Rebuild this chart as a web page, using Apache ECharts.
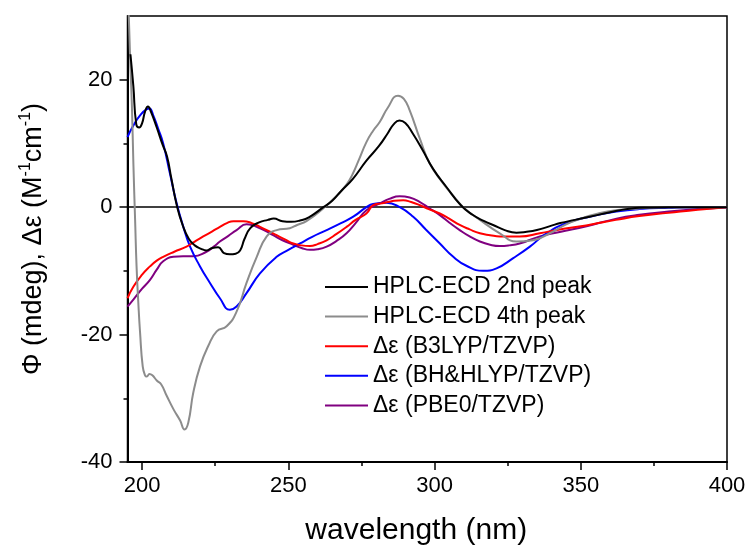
<!DOCTYPE html>
<html>
<head>
<meta charset="utf-8">
<script src="https://cdn.jsdelivr.net/npm/echarts@6/dist/echarts.min.js"></script>
<style>html,body{margin:0;padding:0;background:#fff}#c{width:750px;height:547px}</style>
</head>
<body>
<div id="c"></div>
<script>
var seriesNames = ['HPLC-ECD 2nd peak', 'HPLC-ECD 4th peak', 'Δε (B3LYP/TZVP)', 'Δε (BH&HLYP/TZVP)', 'Δε (PBE0/TZVP)'];
var xTickLabels = [200, 250, 300, 350, 400];
var xMinorTicks = [225, 275, 325, 375];
var yTickLabels = [-40, -20, 0, 20];
var yMinorTicks = [-30, -10, 10];

var hplc2nd = [[196,24],[197,19],[198,13],[199,12.5],[200,13.2],[201,15],[202,15.8],[203,15],[205,12.5],[207,9.8],[208.5,8],[210,4.5],[212,0],[214,-3],[216,-5],[218,-6],[220,-6.5],[222,-6.8],[224,-6.4],[226,-6.3],[228,-7.2],[230,-7.4],[232,-7.3],[233.5,-6.8],[235,-5],[237,-3.3],[240,-2.4],[243,-2],[245,-1.8],[248,-2.2],[251,-2.3],[254,-2.1],[257,-1.6],[262,0],[265,1],[268,2.5],[272,4.4],[276.7,7.3],[281,9.6],[284,11.6],[286,13],[288,13.6],[290,13.2],[292.5,11.6],[296,8.9],[299.5,6],[304,3.2],[309,0.3],[313,-1.2],[317,-2.2],[320,-2.8],[324,-3.6],[328,-4],[331,-3.9],[335,-3.6],[340,-2.9],[343,-2.5],[348,-2],[353,-1.5],[358,-1],[362,-0.6],[366,-0.3],[370,-0.1],[380,0],[390,0],[400,0]];
var hplc4th = [[195.3,32],[196,22],[196.5,16],[197,7],[197.6,-2],[198.1,-9.3],[198.7,-15],[199.3,-19.7],[200.2,-25],[201,-26.4],[201.6,-26.6],[202.5,-26.2],[203.5,-26.4],[205,-27.2],[206.5,-27.8],[208.4,-29.6],[210.7,-31.7],[213,-33.5],[214.5,-34.9],[215.8,-33.8],[217.5,-29.1],[219.8,-25],[222.6,-21.8],[225.5,-19.5],[228.9,-18.7],[232.3,-16.4],[235.7,-11.9],[239.2,-7.8],[242.6,-4.6],[246,-3.6],[250.5,-3.3],[253,-2.8],[256.2,-2.2],[261.9,-0.2],[267,2],[270,3.6],[272,5.2],[274,7.3],[276.7,10.2],[279,12],[281.3,13.4],[284,15.6],[287.5,17.5],[289.5,17],[291.5,15.2],[295,10.7],[298.4,6.8],[303,3.7],[306,2],[309.8,0],[315.5,-2],[322.3,-4.1],[328,-5.4],[333.7,-5.2],[339.4,-4.1],[345,-2.7],[350,-1.8],[356,-1.0],[362,-0.5],[370,-0.2],[380,0],[400,0]];
var b3lyp = [[195,-14.3],[197,-12.5],[200,-10.6],[202.7,-9.3],[205,-8.4],[207.2,-7.8],[211,-7],[215.2,-6.2],[218,-5.4],[220.9,-4.6],[224,-3.8],[226.6,-3.1],[229,-2.5],[231.2,-2.2],[234.6,-2.2],[237.5,-2.5],[240.3,-3.1],[243,-3.7],[246,-4.4],[249,-5.1],[251.7,-5.7],[254.5,-6],[257.4,-6.1],[260,-5.8],[263.1,-5.2],[266.5,-4.2],[269.9,-3.1],[273,-2],[276.7,-1.0],[279,0.3],[282,0.6],[285,0.9],[289.3,1.1],[292,0.8],[295,0.3],[298,-0.3],[301.8,-1],[305,-1.8],[308.6,-2.8],[312,-3.5],[315.5,-4.1],[319,-4.4],[322.3,-4.6],[329.1,-4.6],[336,-4.1],[342.8,-3.5],[350,-3.0],[356,-2.5],[362,-2.0],[370,-1.4],[380,-0.9],[390,-0.4],[400,0]];
var bhhlyp = [[195,11],[197,12.8],[199.3,14.4],[201.6,15.4],[202.5,15.5],[203.8,14.4],[205.5,12.3],[207.2,10],[209.5,5.3],[211.8,0.6],[214.1,-3.1],[216.4,-6.2],[219.8,-9.3],[223.2,-11.9],[226.6,-14.3],[230,-16.1],[232.3,-15.6],[235.7,-13.5],[240.3,-10.4],[246,-7.8],[250,-6.7],[254,-5.7],[258,-4.7],[263.1,-3.6],[268,-2.5],[272.2,-1.5],[276.7,0],[279,0.5],[283.6,0.7],[288.1,0],[292.7,-1.5],[297,-3.5],[301.8,-5.7],[306.4,-7.8],[310.9,-9.2],[316.6,-10],[321.2,-9.6],[326.9,-8],[332.6,-6.2],[338.3,-4.1],[345.1,-2.5],[353,-1.5],[362.2,-0.7],[370,-0.3],[380,-0.1],[390,0],[400,0]];
var pbe0 = [[195,-15.6],[197,-14.5],[200,-12.8],[202.7,-11.4],[205,-9.8],[207.2,-8.5],[210.7,-7.8],[214,-7.7],[217.5,-7.7],[222,-7],[224.5,-6.2],[226.6,-5.4],[229.5,-4.5],[232.3,-3.6],[235.7,-2.7],[237.5,-2.8],[239.2,-3.1],[242,-3.7],[244.8,-4.4],[248,-5.2],[251.7,-5.9],[254.5,-6.4],[257.4,-6.7],[260,-6.6],[263.1,-6.2],[266.5,-5.3],[269.9,-4.1],[273,-2.5],[276.7,-0.5],[281.3,0.6],[284.5,1.3],[288.1,1.7],[291.5,1.5],[295,0.8],[298,-0.1],[301.8,-1.25],[305,-2.4],[308.6,-3.6],[312,-4.6],[315.5,-5.4],[319,-5.9],[322.3,-6.1],[325.5,-6],[329.1,-5.7],[336,-4.6],[342.8,-3.9],[352,-3.0],[362.2,-1.8],[370,-1.2],[380,-0.7],[390,-0.3],[400,0]];

var colors = ['#000000', '#8c8c8c', '#ff0000', '#0000ff', '#800080'];
var datasets = [hplc2nd, hplc4th, b3lyp, bhhlyp, pbe0];

var font = 'Arial, "Liberation Sans", sans-serif';
var chart = echarts.init(document.getElementById('c'));

var series = datasets.map(function (d, i) {
  return {
    name: seriesNames[i], type: 'line', data: d, symbol: 'none', showSymbol: false,
    smooth: 0.5, clip: true,
    lineStyle: { color: colors[i], width: 2 }, itemStyle: { color: colors[i] },
    z: 10 - i, silent: true
  };
});
series[0].markLine = {
  silent: true, symbol: 'none', label: { show: false },
  lineStyle: { color: '#000', width: 1.5, type: 'solid' },
  data: [{ yAxis: 0 }], z: 1
};

chart.setOption({
  animation: false,
  backgroundColor: '#fff',
  grid: { left: 127.5, right: 23, top: 16, bottom: 85, containLabel: false, outerBoundsMode: 'none', show: true, borderColor: '#000', borderWidth: 1.5, backgroundColor: 'transparent' },
  legend: {
    orient: 'vertical', left: 324, top: 275.5, padding: 0,
    itemWidth: 43, itemHeight: 22, itemGap: 6.6,
    itemStyle: { opacity: 0 },
    lineStyle: { width: 2 },
    textStyle: { fontFamily: font, fontSize: 23, color: '#000', lineHeight: 22 },
    data: seriesNames
  },
  xAxis: [{
    type: 'value', min: 195, max: 400, position: 'bottom',
    name: 'wavelength (nm)', nameLocation: 'middle', nameGap: 54,
    nameTextStyle: { fontFamily: font, fontSize: 30, color: '#000', padding: [0, 22, 0, 0] },
    axisLine: { show: true, onZero: false, lineStyle: { color: '#000', width: 2 } },
    axisTick: { show: true, inside: false, length: 8, lineStyle: { color: '#000', width: 1.5 }, customValues: xTickLabels },
    axisLabel: { fontFamily: font, fontSize: 22, color: '#000', margin: 13, customValues: xTickLabels },
    splitLine: { show: false }
  }, {
    type: 'value', min: 195, max: 400, position: 'bottom',
    axisLine: { show: false, onZero: false },
    axisTick: { show: true, inside: false, length: 4, lineStyle: { color: '#000', width: 1.5 }, customValues: xMinorTicks },
    axisLabel: { show: false }, splitLine: { show: false }
  }],
  yAxis: [{
    type: 'value', min: -40, max: 30, position: 'left',
    name: '{t|Φ (mdeg), Δε (M}{s|-1}{t|cm}{s|-1}{t|)}', nameLocation: 'middle', nameRotate: 90, nameGap: 80,
    nameTextStyle: {
      fontFamily: font, fontSize: 27, color: '#000',
      rich: {
        t: { fontFamily: font, fontSize: 27, color: '#000', lineHeight: 30, verticalAlign: 'bottom' },
        s: { fontFamily: font, fontSize: 16, color: '#000', lineHeight: 30, verticalAlign: 'top', padding: [0, 0, 12, 0] }
      }
    },
    axisLine: { show: true, onZero: false, lineStyle: { color: '#000', width: 2 } },
    axisTick: { show: true, inside: false, length: 8, lineStyle: { color: '#000', width: 1.5 }, customValues: yTickLabels },
    axisLabel: { fontFamily: font, fontSize: 22, color: '#000', margin: 15, customValues: yTickLabels },
    splitLine: { show: false }
  }, {
    type: 'value', min: -40, max: 30, position: 'left',
    axisLine: { show: false, onZero: false },
    axisTick: { show: true, inside: false, length: 4, lineStyle: { color: '#000', width: 1.5 }, customValues: yMinorTicks },
    axisLabel: { show: false }, splitLine: { show: false }
  }],
  series: series
});
</script>
</body>
</html>
